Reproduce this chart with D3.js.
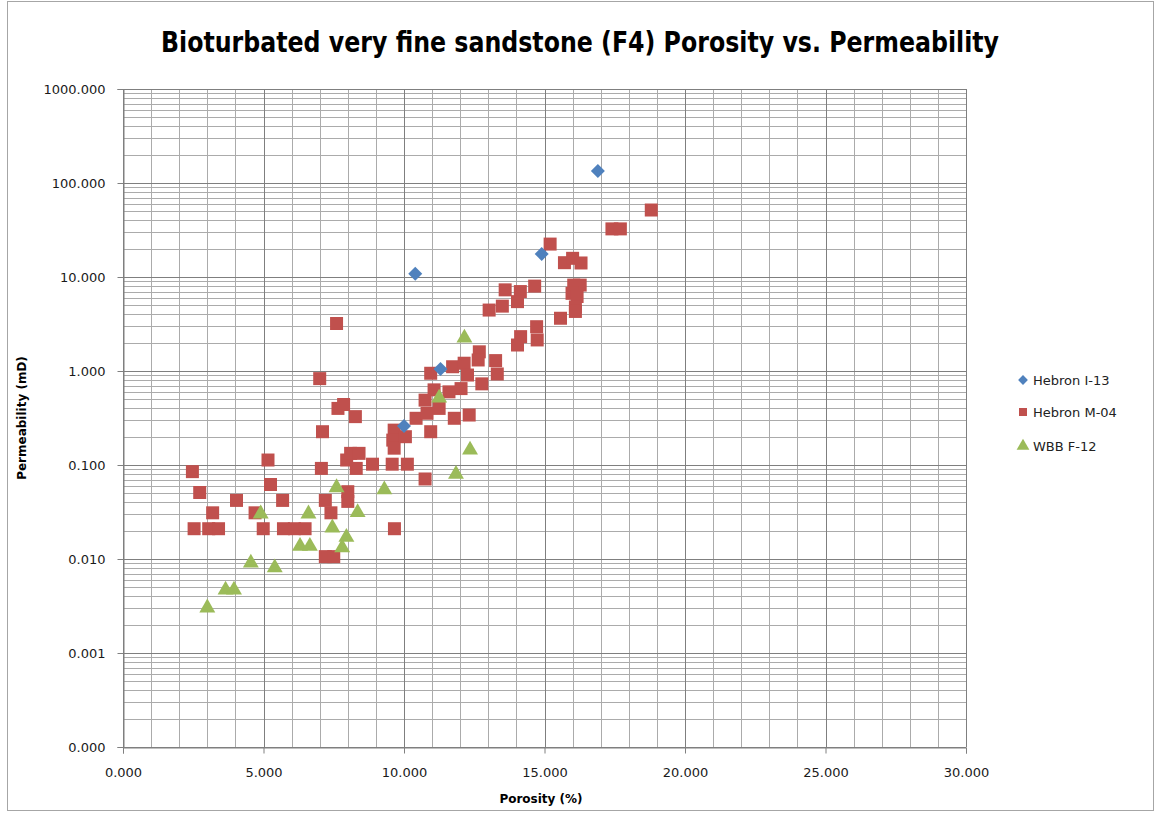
<!DOCTYPE html>
<html>
<head>
<meta charset="utf-8">
<title>Porosity vs. Permeability</title>
<style>
  body { margin: 0; background: #fff; }
  .tick text { font-family: "DejaVu Sans", Verdana, sans-serif; font-size: 13px; fill: #1a1a1a; }
  .domain { stroke: #808080; }
  .tick line { stroke: #808080; }
</style>
</head>
<body>
<script src="https://d3js.org/d3.v7.min.js"></script>
<script>
// porosity (%), permeability (mD)
var hebronI13 = [
  [16.9, 134], [10.4, 10.8], [14.9, 17.6], [11.3, 1.05], [10.0, 0.26]
];
var hebronM04 = [
  [2.47, 0.085], [2.73, 0.051], [3.19, 0.031], [2.53, 0.021], [3.05, 0.021], [3.4, 0.021],
  [4.04, 0.042], [4.7, 0.031], [5.16, 0.113], [5.25, 0.062], [5.68, 0.042], [4.99, 0.021],
  [5.71, 0.021], [6.1, 0.021], [6.48, 0.021], [7.06, 0.092], [7.2, 0.042], [7.4, 0.031],
  [7.2, 0.0106], [7.5, 0.0106], [7.0, 0.83], [7.1, 0.226], [7.65, 0.40], [7.85, 0.44],
  [8.27, 0.327], [8.0, 0.052], [8.0, 0.041], [7.96, 0.113], [8.1, 0.133], [8.4, 0.133],
  [8.3, 0.092], [8.88, 0.102], [9.58, 0.102], [10.12, 0.102], [9.66, 0.021], [10.75, 0.071],
  [7.6, 3.2], [9.65, 0.235], [9.6, 0.184], [9.65, 0.151], [10.05, 0.2], [10.95, 0.946],
  [11.07, 0.63], [10.75, 0.49], [10.43, 0.314], [10.82, 0.355], [11.25, 0.40], [10.95, 0.226],
  [11.73, 1.11], [12.14, 1.21], [12.26, 0.906], [11.6, 0.60], [12.03, 0.65], [11.79, 0.314],
  [12.32, 0.34], [15.2, 22.4], [15.71, 14.2], [16.0, 15.8], [13.6, 7.3], [14.14, 7.0],
  [14.04, 5.47], [14.65, 8.0], [13.03, 4.45], [13.5, 4.9], [15.57, 3.64], [14.72, 2.96],
  [14.74, 2.14], [14.15, 2.32], [14.04, 1.89], [12.68, 1.6], [12.64, 1.31], [13.26, 1.29],
  [13.32, 0.93], [12.77, 0.73], [18.8, 51.6], [17.4, 32.5], [17.7, 32.5], [16.3, 14.1],
  [16.04, 8.2], [16.27, 8.2], [15.98, 6.7], [16.16, 6.2], [16.1, 4.8], [16.1, 4.3]
];
var wbbF12 = [
  [3.0, 0.0031], [3.65, 0.0048], [3.95, 0.0048], [4.55, 0.0093], [5.4, 0.0083], [4.9, 0.031],
  [6.3, 0.014], [6.65, 0.014], [6.6, 0.031], [7.45, 0.022], [7.6, 0.059], [7.8, 0.0135],
  [7.95, 0.0175], [8.35, 0.032], [9.3, 0.056], [11.25, 0.53], [12.15, 2.3], [12.35, 0.148],
  [11.85, 0.082]
];
var seriesNames = ["Hebron I-13", "Hebron M-04", "WBB F-12"];
var xTicks = [0, 5, 10, 15, 20, 25, 30];
var yTicks = [0.0001, 0.001, 0.01, 0.1, 1, 10, 100, 1000];

var width = 1157, height = 815;
var plot = {left: 123, top: 89, right: 966, bottom: 747};
var colors = ["#4F81BD", "#C0504D", "#9BBB59"];

var svg = d3.select("body").append("svg")
  .attr("width", width)
  .attr("height", height);

// chart border
svg.append("rect")
  .attr("x", 7.5).attr("y", 1.5)
  .attr("width", 1146).attr("height", 809)
  .attr("fill", "#fff")
  .attr("stroke", "#a6a6a6");

var x = d3.scaleLinear().domain([0, 30]).range([plot.left, plot.right]);
var y = d3.scaleLog().domain([0.0001, 1000]).range([plot.bottom, plot.top]);

// minor grid
var xMinor = d3.range(1, 30).filter(function(d) { return d % 5 != 0; });
var yMinor = [];
yTicks.slice(0, -1).forEach(function(t) {
  d3.range(2, 10).forEach(function(k) { yMinor.push(t * k); });
});

var grid = svg.append("g");
grid.selectAll(".vminor").data(xMinor).enter().append("line")
  .attr("x1", function(d) { return Math.round(x(d)) + 0.5; })
  .attr("x2", function(d) { return Math.round(x(d)) + 0.5; })
  .attr("y1", plot.top).attr("y2", plot.bottom)
  .attr("stroke", "#ababab");
grid.selectAll(".hminor").data(yMinor).enter().append("line")
  .attr("y1", function(d) { return Math.round(y(d)) + 0.5; })
  .attr("y2", function(d) { return Math.round(y(d)) + 0.5; })
  .attr("x1", plot.left).attr("x2", plot.right)
  .attr("stroke", "#ababab");
// major grid
grid.selectAll(".vmajor").data(xTicks).enter().append("line")
  .attr("x1", function(d) { return Math.round(x(d)) + 0.5; })
  .attr("x2", function(d) { return Math.round(x(d)) + 0.5; })
  .attr("y1", plot.top).attr("y2", plot.bottom)
  .attr("stroke", "#7f7f7f");
grid.selectAll(".hmajor").data(yTicks).enter().append("line")
  .attr("y1", function(d) { return Math.round(y(d)) + 0.5; })
  .attr("y2", function(d) { return Math.round(y(d)) + 0.5; })
  .attr("x1", plot.left).attr("x2", plot.right)
  .attr("stroke", "#7f7f7f");

// axes
var fmt = d3.format(".3f");
svg.append("g")
  .attr("transform", "translate(0," + (plot.bottom + 0.5) + ")")
  .call(d3.axisBottom(x).tickValues(xTicks).tickFormat(fmt).tickSize(6).tickPadding(14));
svg.append("g")
  .attr("transform", "translate(" + (plot.left + 0.5) + ",0)")
  .call(d3.axisLeft(y).tickValues(yTicks).tickFormat(fmt).tickSize(6).tickPadding(12));

// markers
var squarePath = d3.symbol().type(d3.symbolSquare).size(169)();
var trianglePath = d3.symbol().type(d3.symbolTriangle).size(110)();
var diamondPath = d3.symbol().type(d3.symbolSquare).size(98)();

svg.append("g").selectAll("path").data(hebronM04).enter().append("path")
  .attr("d", squarePath)
  .attr("fill", colors[1])
  .attr("transform", function(d) { return "translate(" + x(d[0]) + "," + y(d[1]) + ")"; });
svg.append("g").selectAll("path").data(wbbF12).enter().append("path")
  .attr("d", trianglePath)
  .attr("fill", colors[2])
  .attr("transform", function(d) { return "translate(" + x(d[0]) + "," + (y(d[1]) + 1) + ")"; });
svg.append("g").selectAll("path").data(hebronI13).enter().append("path")
  .attr("d", diamondPath)
  .attr("fill", colors[0])
  .attr("transform", function(d) { return "translate(" + x(d[0]) + "," + y(d[1]) + ") rotate(45)"; });

// titles
svg.append("text")
  .attr("x", 580).attr("y", 52)
  .attr("text-anchor", "middle")
  .attr("textLength", 838)
  .attr("lengthAdjust", "spacingAndGlyphs")
  .style("font-family", "'Liberation Sans Narrow', 'DejaVu Sans Condensed', 'Open Sans', sans-serif")
  .style("font-weight", "bold")
  .style("font-size", "29px")
  .text("Bioturbated very fine sandstone (F4)  Porosity vs. Permeability");

svg.append("text")
  .attr("x", 541).attr("y", 803)
  .attr("text-anchor", "middle")
  .style("font-family", "'DejaVu Sans', sans-serif")
  .style("font-weight", "bold")
  .style("font-size", "12px")
  .text("Porosity (%)");

svg.append("text")
  .attr("transform", "translate(26,418) rotate(-90)")
  .attr("text-anchor", "middle")
  .style("font-family", "'DejaVu Sans', sans-serif")
  .style("font-weight", "bold")
  .style("font-size", "12px")
  .text("Permeability (mD)");

// legend
var legendShapes = [diamondPath, squarePath, trianglePath];
var legendSizes = [0.7, 0.62, 0.8];
var legend = svg.append("g").selectAll("g").data(seriesNames).enter().append("g")
  .attr("transform", function(d, i) { return "translate(1023," + [380, 412, 446][i] + ")"; });
legend.append("path")
  .attr("d", function(d, i) { return legendShapes[i]; })
  .attr("fill", function(d, i) { return colors[i]; })
  .attr("transform", function(d, i) {
    return "scale(" + legendSizes[i] + ")" + (i == 0 ? " rotate(45)" : "");
  });
legend.append("text")
  .attr("x", 10).attr("dy", "0.35em")
  .style("font-family", "'DejaVu Sans', sans-serif")
  .style("font-size", "13px")
  .style("fill", "#222")
  .text(function(d) { return d; });
</script>
</body>
</html>
